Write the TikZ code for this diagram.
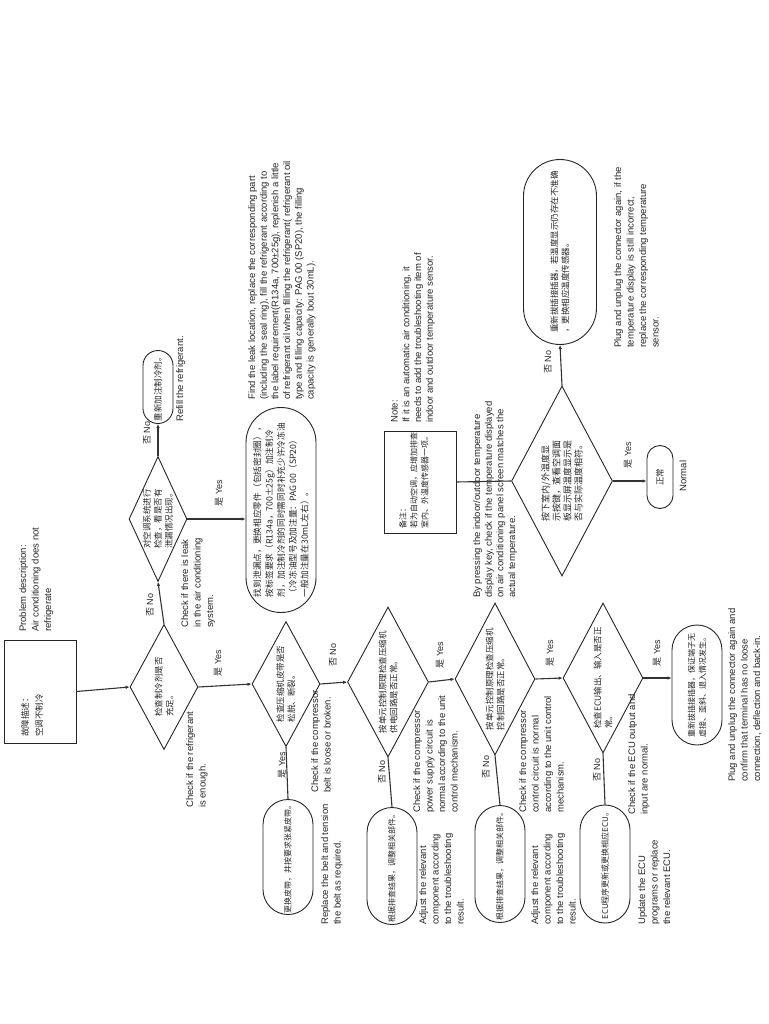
\documentclass[tikz,border=0pt]{standalone}
\usepackage{fontspec}
\setmainfont{Liberation Sans}
\newfontfamily\cjk{Noto Sans CJK SC}
\usetikzlibrary{shapes.geometric,shapes.misc,arrows.meta}
\begin{document}
\begin{tikzpicture}[x=1pt,y=-1pt,
  dia/.style={draw=black!85, diamond, rotate=90, inner sep=0pt, line width=0.9pt},
  stad/.style={draw=black!85, rounded rectangle, rotate=90, inner sep=0pt, line width=0.9pt},
  frame/.style={draw=black!85, rectangle, rotate=90, inner sep=0pt, line width=0.9pt},
  cn/.style={rotate=90, align=left, inner sep=0pt, text=black!85, font=\cjk\fontsize{8.5}{11}\selectfont},
  cnl/.style={rotate=90, align=left, anchor=north west, inner sep=0pt, text=black!85, font=\cjk\fontsize{8.5}{14}\selectfont},
  en/.style={rotate=90, align=left, anchor=north west, inner sep=0pt, text=black!85, font=\fontsize{9.5}{12.5}\selectfont},
  yn/.style={rotate=90, inner sep=0pt, text=black!85, font=\fontsize{9}{11}\selectfont},
  arr/.style={draw=black!80, line width=1.1pt, -{Latex[length=4pt,width=3.5pt]}},
  ln/.style={draw=black!80, line width=1.1pt}
]
\fill[white] (0,0) rectangle (768,1024);
\useasboundingbox (0,0) rectangle (768,1024);

% title
\node[frame, minimum width=103pt, minimum height=72pt] (title) at (40,691.5) {};
\node[cnl] (titletxt) at (21,737) {故障描述：\\空调不制冷};
\node[en] (probtxt) at (19,632) {Problem description:\\Air conditioning does not\\refrigerate};

% d1
\node[dia, minimum width=125pt, minimum height=68pt] (d1) at (164,687) {};
\node[cn] (d1t) at (d1) {检查制冷剂是否\\充足。};
\node[en] (d1l) at (186,808) {Check if the refrigerant\\is enough.};

% d2
\node[dia, minimum width=125pt, minimum height=58pt] (d2) at (158,519) {};
\node[cn] (d2t) at (d2) {对空调系统进行\\检查，看是否有\\泄漏情况出现。};
\node[en] (d2l) at (181,628) {Check if there is leak\\in the air conditioning\\system.};

% s1
\node[stad, minimum width=73pt, minimum height=30pt] (s1) at (158,387) {};
\node[cn] (s1t) at (s1) {重新加注制冷剂。};
\node[en] (s1l) at (176,422) {Refill the refrigerant.};

% s2
\node[stad, minimum width=205pt, minimum height=70pt] (s2) at (281,510) {};
\node[cn, font=\cjk\fontsize{8.7}{11.8}\selectfont] (s2t) at (s2) {找到泄漏点，更换相应零件（包括密封圈），\\按标签要求（R134a，700±25g）加注制冷\\剂，加注制冷剂的同时需同时补充少许冷冻油\\（冷冻油型号及加注量：PAG 00（SP20）\\一般加注量在30mL左右）。};
\node[en, font=\fontsize{9.5}{11.7}\selectfont] (s2l) at (248,400) {Find the leak location, replace the corresponding part\\(including the seal ring), fill the refrigerant according to\\the label requirement(R134a, 700±25g), replenish a little\\of refrigerant oil when filling the refrigerant( refrigerant oil\\type and filling capacity: PAG 00 (SP20), the filling\\capacity is generally bout 30mL).};

% d3
\node[dia, minimum width=125pt, minimum height=68pt] (d3) at (286,684) {};
\node[cn] (d3t) at (d3) {检查压缩机皮带是否\\松脱、断裂。};
\node[en] (d3l) at (311,793) {Check if the compressor\\belt is loose or broken.};

% s3
\node[stad, minimum width=115pt, minimum height=50pt] (s3) at (288,857) {};
\node[cn, font=\cjk\fontsize{8}{11}\selectfont] (s3t) at (s3) {更换皮带，并按要求张紧皮带。};
\node[en] (s3l) at (321,925) {Replace the belt and tension\\the belt as required.};

% d4
\node[dia, minimum width=150pt, minimum height=81pt] (d4) at (388,682) {};
\node[cn] (d4t) at (d4) {按单元控制原理检查压缩机\\供电回路是否正常。};
\node[en] (d4l) at (413,813) {Check if the compressor\\power supply circuit is\\normal according to the unit\\control mechanism.};

% s4
\node[stad, minimum width=117pt, minimum height=50pt] (s4) at (392,866) {};
\node[cn, font=\cjk\fontsize{8}{11}\selectfont] (s4t) at (s4) {根据排查结果，调整相关部件。};
\node[en] (s4l) at (419,925) {Adjust the relevant\\component according\\to the troubleshooting\\result.};

% d5
\node[dia, minimum width=152pt, minimum height=80pt] (d5) at (495,679) {};
\node[cn] (d5t) at (d5) {按单元控制原理检查压缩机\\控制回路是否正常。};
\node[en] (d5l) at (519,813) {Check if the compressor\\control circuit is normal\\according to the unit control\\mechanism.};

% s5
\node[stad, minimum width=117pt, minimum height=50pt] (s5) at (500,864) {};
\node[cn, font=\cjk\fontsize{8}{11}\selectfont] (s5t) at (s5) {根据排查结果，调整相关部件。};
\node[en] (s5l) at (531,925) {Adjust the relevant\\component according\\to the troubleshooting\\result.};

% d6
\node[dia, minimum width=150pt, minimum height=80pt] (d6) at (603,678) {};
\node[cn] (d6t) at (d6) {检查ECU输出、输入是否正\\常。};
\node[en] (d6l) at (628,815) {Check if the ECU output and\\input are normal.};

% s6
\node[stad, minimum width=118pt, minimum height=50pt] (s6) at (605,864) {};
\node[cn, font=\cjk\fontsize{8}{11}\selectfont] (s6t) at (s6) {ECU程序更新或更换相应ECU。};
\node[en] (s6l) at (638,925) {Update the ECU\\programs or replace\\the relevant ECU.};

% s7
\node[stad, minimum width=120pt, minimum height=50pt] (s7) at (697,685) {};
\node[cn, font=\cjk\fontsize{8}{11}\selectfont] (s7t) at (s7) {重新拔插接插器，保证端子无\\虚接、歪斜、退入情况发生。};
\node[en] (s7l) at (728,782) {Plug and unplug the connector again and\\confirm that terminal has no loose\\connection, deflection and back-in.};

% note
\node[frame, minimum width=102pt, minimum height=72pt] (note) at (420,482) {};
\node[cnl, font=\cjk\fontsize{8}{11}\selectfont] (notet) at (399,529) {备注：\\若为自动空调，应增加排查\\室内、外温度传感器一项。};
\node[en, font=\fontsize{9.5}{11.7}\selectfont] (notel) at (391,423) {Note:\\If it is an automatic air conditioning, it\\needs to add the troubleshooting item of\\indoor and outdoor temperature sensor.};

% d7
\node[dia, minimum width=190pt, minimum height=101pt] (d7) at (562,481) {};
\node[cn, font=\cjk\fontsize{9}{11}\selectfont] (d7t) at (d7) {按下室内/外温度显\\示按键，查看空调面\\板显示屏温度显示是\\否与实际温度相符。};
\node[en, font=\fontsize{9.5}{11.7}\selectfont] (d7l) at (473,598) {By pressing the indoor/outdoor temperature\\display key, check if the temperature displayed\\on air conditioning panel screen matches the\\actual temperature.};

% s8
\node[stad, minimum width=185pt, minimum height=73pt] (s8) at (560,252) {};
\node[cn] (s8t) at (s8) {重新拔插接插器，若温度显示仍存在不准确\\，更换相应温度传感器。};
\node[en] (s8l) at (614,348) {Plug and unplug the connector again, if the\\temperature display is still incorrect,\\replace the corresponding temperature\\sensor.};

% s9
\node[stad, minimum width=63pt, minimum height=26pt] (s9) at (660,477) {};
\node[cn] (s9t) at (s9) {正常};
\node[yn, font=\fontsize{9.5}{11}\selectfont] (s9l) at (683,476) {Normal};

% yes/no labels
\node[yn] (yn1) at (150,605) {{\cjk 否} No};
\node[yn] (yn2) at (147,433) {{\cjk 否} No};
\node[yn] (yn3) at (219,493) {{\cjk 是} Yes};
\node[yn] (yn4) at (218,663) {{\cjk 是} Yes};
\node[yn] (yn5) at (282,765) {{\cjk 是} Yes};
\node[yn] (yn6) at (333,655) {{\cjk 否} No};
\node[yn] (yn7) at (382,772) {{\cjk 否} No};
\node[yn] (yn8) at (440,655) {{\cjk 是} Yes};
\node[yn] (yn9) at (486,767) {{\cjk 否} No};
\node[yn] (yn10) at (550,653) {{\cjk 是} Yes};
\node[yn] (yn11) at (597,770) {{\cjk 否} No};
\node[yn] (yn12) at (657,653) {{\cjk 是} Yes};
\node[yn] (yn13) at (548,362) {{\cjk 否} No};
\node[yn] (yn14) at (628,455) {{\cjk 是} Yes};

% connectors
\draw[arr] (title.south) -- (d1.north);
\draw[arr] (d1.east) -- (d2.west);
\draw[arr] (d2.east) -- (s1.west);
\draw[arr] (d2.south) -- (d2.south -| s2.north);
\draw[arr] (d1.south) -- (d3.north);
\draw[ln] (d3.west) -- (s3.east);
\draw[arr] (d3.south) -- (d4.north);
\draw[ln] (d4.west) -- (s4.east);
\draw[arr] (d4.south) -- (d5.north);
\draw[ln] (d5.west) -- (s5.east);
\draw[arr] (d5.south) -- (d6.north);
\draw[ln] (d6.west) -- (s6.east);
\draw[arr] (d6.south) -- (d6.south -| s7.north);
\draw[ln] (note.south) -- (d7.north);
\draw[arr] (d7.east) -- (s8.west);
\draw[arr] (d7.south) -- (d7.south -| s9.north);
\end{tikzpicture}
\end{document}
